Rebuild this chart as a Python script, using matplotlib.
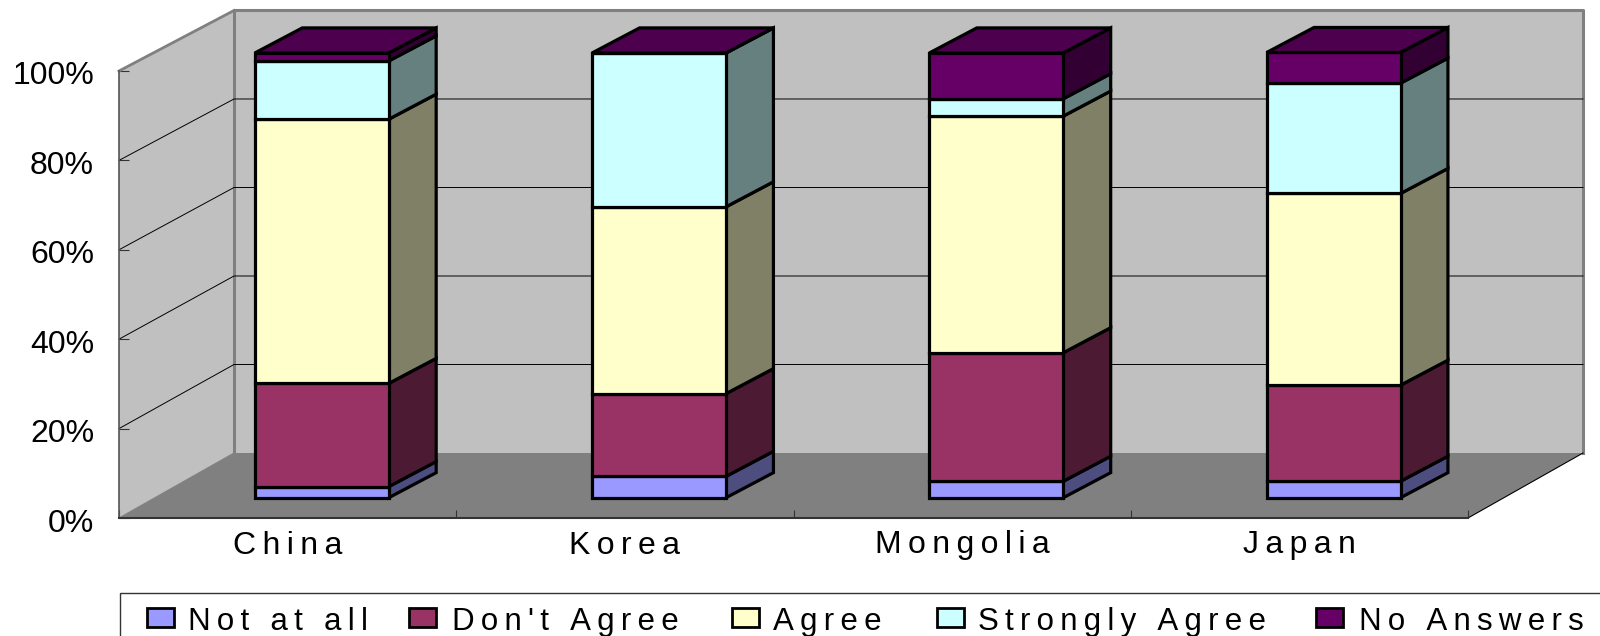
import matplotlib.pyplot as plt
from matplotlib.patches import Rectangle
from matplotlib.transforms import ScaledTranslation

plt.rcParams['font.family'] = ['Liberation Sans', 'DejaVu Sans']

countries = ["China", "Korea", "Mongolia", "Japan"]
answers = ["Not at all", "Don't Agree", "Agree", "Strongly Agree", "No Answers"]
not_at_all = [2.5, 4.8, 3.7, 3.7]
dont_agree = [23.2, 18.6, 28.9, 21.6]
agree = [59.4, 42.0, 53.2, 43.1]
strongly_agree = [13.1, 34.6, 3.9, 24.8]
no_answers = [1.8, 0.0, 10.3, 6.9]
pct_ticks = [0, 20, 40, 60, 80, 100]

series = [not_at_all, dont_agree, agree, strongly_agree, no_answers]
front_colors = ["#9999FF", "#993366", "#FFFFCC", "#CCFFFF", "#660066"]
side_colors = ["#4D4D80", "#4D1A33", "#808066", "#668080", "#330033"]
top_color = "#4D004D"

# fake 3d: depth 0 is the axis plane, depth 1 the back wall
DX = 0.341
DY = 14.54
BAR_LEFT = 0.403
BAR_W = 0.397
BAR_LIFT = 4.54
BAR_DX = 0.1405
BAR_DY = 5.6
BAR_SCALE = 0.995
BAR_LW = 2.3


def project(x, pct, depth):
    return x + depth * DX, pct * (1 - 0.01 * depth) + depth * DY


def spaced(s):
    # the labels are set with wide tracking
    return "\u2009".join(s)


fig = plt.figure(figsize=(16, 6.36), dpi=100)
ax = fig.add_axes([119 / 1600, 118 / 636, 1349 / 1600, 447 / 636])
ax.set_xlim(0, 4)
ax.set_ylim(0, 100)
ax.patch.set_visible(False)
for s in ["top", "right"]:
    ax.spines[s].set_visible(False)
ax.spines["left"].set_color("#555555")
ax.spines["left"].set_linewidth(1.2)
ax.spines["bottom"].set_color("#333333")
ax.spines["bottom"].set_linewidth(1.5)
ax.spines["left"].set_zorder(6)
ax.spines["bottom"].set_zorder(6)

n = len(countries)
wall_gray = "#808080"

# walls and floor
bl, tl = project(0, 0, 1), project(0, 100, 1)
br, tr = project(n, 0, 1), project(n, 100, 1)
ax.fill([bl[0], tl[0], tr[0], br[0]], [bl[1], tl[1], tr[1], br[1]], color="#C0C0C0", lw=0, zorder=1, clip_on=False)
ax.fill([0, 0, tl[0], bl[0]], [0, 100, tl[1], bl[1]], color="#C0C0C0", lw=0, zorder=1, clip_on=False)
ax.fill([0, n, br[0], bl[0]], [0, 0, br[1], bl[1]], color=wall_gray, lw=0, zorder=1, clip_on=False)
ax.plot([bl[0], tl[0], tr[0], br[0]], [bl[1], tl[1], tr[1], br[1]], color=wall_gray, lw=2.2, zorder=2, clip_on=False)
ax.plot([0, tl[0]], [100, tl[1]], color=wall_gray, lw=2.0, zorder=2, clip_on=False)
ax.plot([n, br[0]], [0, br[1]], color="black", lw=0.8, zorder=2, clip_on=False)
ax.plot([0, bl[0]], [0, bl[1]], color=wall_gray, lw=0.8, zorder=2, clip_on=False)

# gridlines run along the left wall and across the back
for p in pct_ticks[1:-1]:
    a, b = project(0, p, 1), project(n, p, 1)
    ax.plot([0, a[0], b[0]], [p, a[1], b[1]], color="black", lw=0.7, zorder=3, clip_on=False)

# stacked bars
for i in range(n):
    xa = i + BAR_LEFT
    xb = xa + BAR_W
    base = 0
    for vals, fc, sc in zip(series, front_colors, side_colors):
        lo = BAR_LIFT + base * BAR_SCALE
        hi = BAR_LIFT + (base + vals[i]) * BAR_SCALE
        ax.fill([xb, xb + BAR_DX, xb + BAR_DX, xb], [lo, lo + BAR_DY, hi + BAR_DY, hi],
                facecolor=sc, edgecolor="black", lw=BAR_LW, zorder=4, clip_on=False)
        ax.fill([xa, xb, xb, xa], [lo, lo, hi, hi],
                facecolor=fc, edgecolor="black", lw=BAR_LW, zorder=5, clip_on=False)
        base += vals[i]
    ax.fill([xa, xb, xb + BAR_DX, xa + BAR_DX], [hi, hi, hi + BAR_DY, hi + BAR_DY],
            facecolor=top_color, edgecolor="black", lw=BAR_LW, zorder=5, clip_on=False)

# axes ticks and labels
ax.set_yticks(pct_ticks)
ax.set_yticklabels([f"{p}%" for p in pct_ticks], fontsize=23)
ax.tick_params(axis="y", direction="in", length=7.5, width=0.8, color="#333333", pad=18)
shift = ScaledTranslation(0, -2 / 100, fig.dpi_scale_trans)
for t in ax.get_yticklabels():
    t.set_transform(t.get_transform() + shift)

ax.set_xticks(range(n + 1))
ax.set_xticklabels([])
ax.tick_params(axis="x", which="major", direction="in", length=6, width=0.8, color="#333333")
ax.set_xticks([i + 0.5 for i in range(n)], minor=True)
ax.set_xticklabels([spaced(c) for c in countries], minor=True, fontsize=23)
ax.tick_params(axis="x", which="minor", length=0, pad=9)

# legend box runs off the bottom and right edges
ov = fig.add_axes([0, 0, 1, 1])
ov.set_xlim(0, 1600)
ov.set_ylim(636, 0)
ov.axis("off")
ov.patch.set_visible(False)
ov.add_patch(Rectangle((119.5, 593), 1600, 60, facecolor="white", edgecolor="#333333", lw=1.0))
key_x = [147, 409, 732, 937, 1316]
text_x = [188, 451.5, 773, 977.5, 1358.6]
for kx, tx, name, fc in zip(key_x, text_x, answers, front_colors):
    ov.add_patch(Rectangle((kx, 608), 27, 19, facecolor=fc, edgecolor="black", lw=2.0))
    ov.text(tx, 630, spaced(name), fontsize=22.5, ha="left", va="baseline", color="black")

fig.savefig("out.png", dpi=100)
